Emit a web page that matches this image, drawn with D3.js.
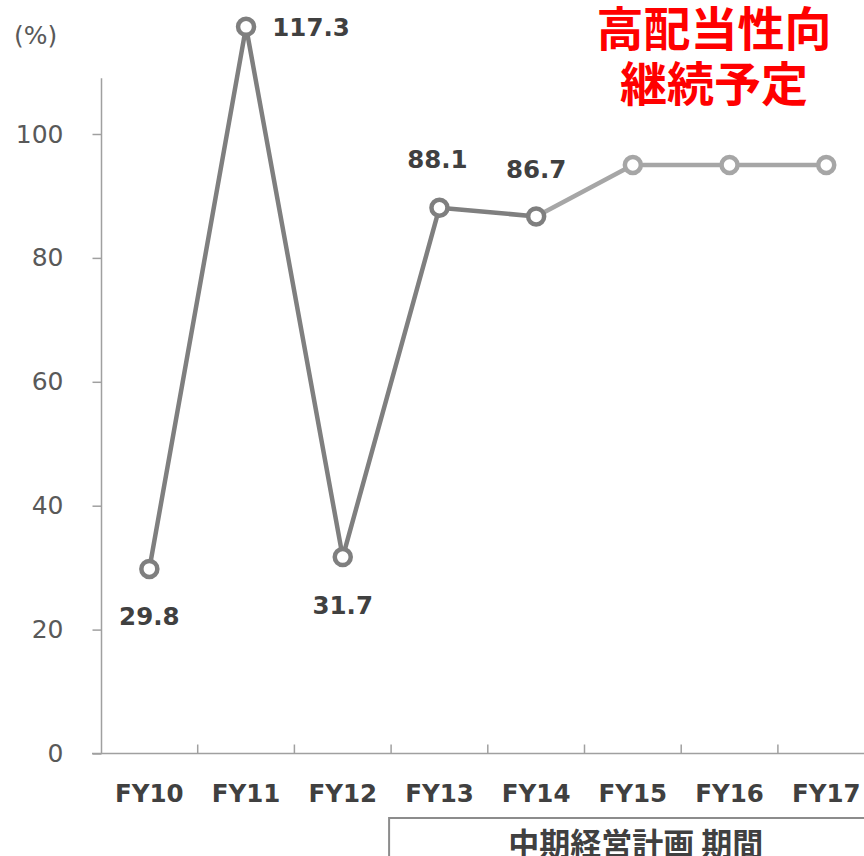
<!DOCTYPE html>
<html><head><meta charset="utf-8">
<script src="https://cdn.jsdelivr.net/npm/d3@7"></script>
<style>body{margin:0;background:#fff}svg{display:block}</style>
</head><body>
<script>
const categories = ["FY10","FY11","FY12","FY13","FY14","FY15","FY16","FY17"];
const values = [29.8,117.3,31.7,88.1,86.7,95,95,95];
const valueLabels = ["29.8","117.3","31.7","88.1","86.7",null,null,null];
const yTicks = [0,20,40,60,80,100];
const planCats = ["FY13","FY14","FY15","FY16","FY17"];
const noteLines = ["高配当性向","継続予定"];

const W=864,H=856;
const svg=d3.select("body").append("svg").attr("width",W).attr("height",H);
const x=d3.scaleBand().domain(categories).range([101,101+8*96.7]);
const y=d3.scaleLinear().domain([0,100]).range([753.5,134]);
const dark="#7f7f7f", light="#a6a6a6", axisC="#a0a0a0", txt="#404040";
const font="'DejaVu Sans', Verdana, sans-serif";
const cx=c=>x(c)+x.bandwidth()/2;

// y axis
const yAx=svg.append("g").attr("transform","translate(101.5,0)")
  .call(d3.axisLeft(y).tickValues(yTicks).tickSize(9).tickPadding(12));
yAx.select(".domain").remove();
yAx.selectAll("line").attr("stroke",axisC).attr("stroke-width",1.5);
yAx.selectAll("text").attr("font-family",font).attr("font-size",25).attr("fill","#595959").attr("dx","-17");
svg.append("line").attr("x1",101.5).attr("x2",101.5).attr("y1",y(109)).attr("y2",y(0))
  .attr("stroke",axisC).attr("stroke-width",1.5);
svg.append("text").attr("x",14).attr("y",44).text("(%)").attr("font-family",font).attr("font-size",25).attr("fill","#595959");

// x axis
svg.append("line").attr("x1",92).attr("x2",W).attr("y1",y(0)).attr("y2",y(0)).attr("stroke",axisC).attr("stroke-width",1.5);
svg.selectAll(".xt").data(categories.slice(1)).enter().append("line")
  .attr("x1",d=>x(d)).attr("x2",d=>x(d)).attr("y1",y(0)-9).attr("y2",y(0)).attr("stroke",axisC).attr("stroke-width",1.5);
svg.selectAll(".xl").data(categories).enter().append("text")
  .attr("x",d=>cx(d)).attr("y",802).attr("text-anchor","middle").text(d=>d)
  .attr("font-family",font).attr("font-weight","bold").attr("font-size",24.5).attr("fill",txt);

// plan bracket
const bx=x(planCats[0])-2;
svg.append("path").attr("d",`M${bx},${H}V818H${W}`).attr("fill","none").attr("stroke","#8c8c8c").attr("stroke-width",2);
svg.append("text").attr("x",(cx(planCats[1])+cx(planCats[3]))/2+3).attr("y",855).attr("text-anchor","middle")
  .text("中期経営計画 期間").attr("font-family","'Noto Sans CJK JP', sans-serif").attr("font-weight","bold").attr("font-size",31).attr("fill",txt);

// lines
const pts=categories.map((c,i)=>({c,v:values[i]}));
const line=d3.line().x(d=>cx(d.c)).y(d=>y(d.v));
svg.append("path").datum(pts.slice(4)).attr("d",line).attr("fill","none").attr("stroke",light).attr("stroke-width",4.5);
svg.append("path").datum(pts.slice(0,5)).attr("d",line).attr("fill","none").attr("stroke",dark).attr("stroke-width",4.5).attr("stroke-linejoin","round");
svg.selectAll(".pt").data(pts).enter().append("circle")
  .attr("cx",d=>cx(d.c)).attr("cy",d=>y(d.v)).attr("r",8)
  .attr("fill","#fff").attr("stroke",(d,i)=>i<5?dark:light).attr("stroke-width",4.5);

// value labels
const lblOff=[[0,56],[65,9],[0,57],[-2,-40],[0,-38]];
pts.forEach((d,i)=>{
  if(!valueLabels[i])return;
  const [dx,dy]=lblOff[i];
  svg.append("text").attr("x",cx(d.c)+dx).attr("y",y(d.v)+dy).attr("text-anchor","middle")
    .text(valueLabels[i]).attr("font-family",font).attr("font-weight","bold").attr("font-size",24.5).attr("fill",txt);
});

// red note
svg.selectAll(".note").data(noteLines).enter().append("text")
  .attr("x",714).attr("y",(d,i)=>46+i*55).attr("text-anchor","middle").text(d=>d)
  .attr("font-family","'Noto Sans CJK JP', sans-serif").attr("font-weight","bold")
  .attr("font-size",47).attr("fill","#ff0000");
</script>
</body></html>
